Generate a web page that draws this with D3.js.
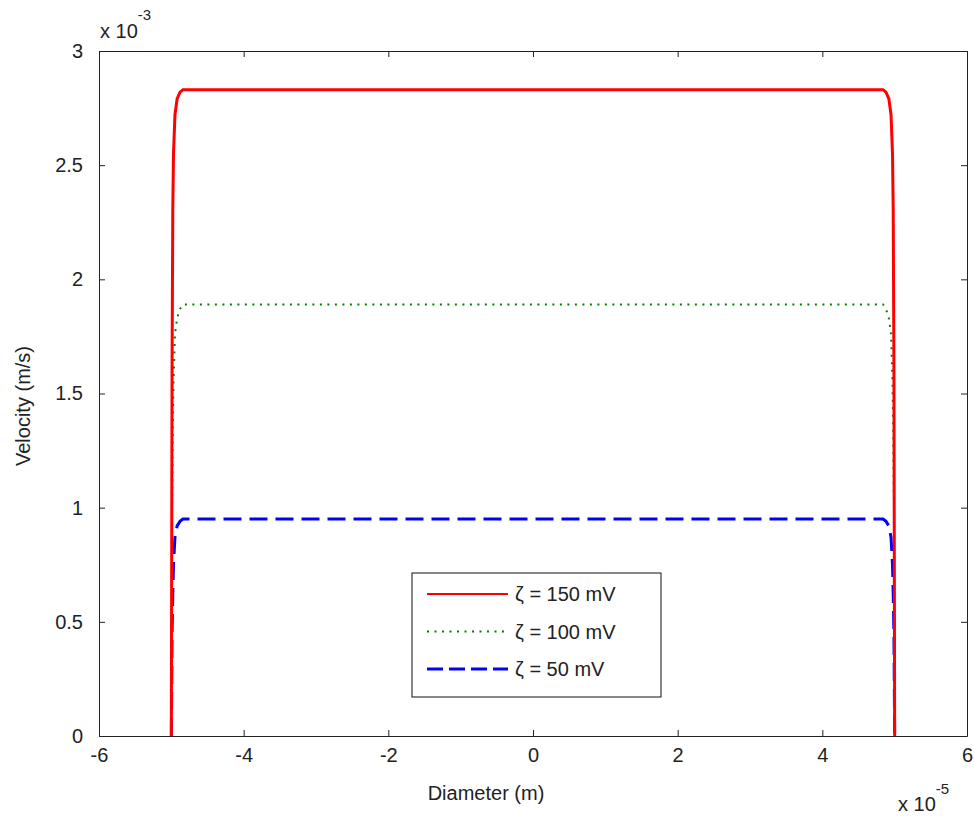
<!DOCTYPE html>
<html>
<head>
<meta charset="utf-8">
<script src="https://cdn.jsdelivr.net/npm/d3@7"></script>
<style>
  body { margin: 0; background: #fff; }
  text { font-family: "Liberation Sans", Arial, sans-serif; fill: #222; }
</style>
</head>
<body>
<div id="chart"></div>
<script>
// diameter positions (x 1e-5 m)
var xs = [-5, -4.99, -4.98, -4.97, -4.95, -4.92, -4.88, -4.84, -4.8, 0,
          4.8, 4.84, 4.88, 4.92, 4.95, 4.97, 4.98, 4.99, 5];
// velocity (x 1e-3 m/s)
var v150 = [0, 1.6, 2.3, 2.55, 2.72, 2.79, 2.82, 2.83, 2.83, 2.83,
            2.83, 2.83, 2.82, 2.79, 2.72, 2.55, 2.3, 1.6, 0];
var v100 = [0, 1.0, 1.35, 1.55, 1.76, 1.83, 1.87, 1.89, 1.89, 1.89,
            1.89, 1.89, 1.87, 1.83, 1.76, 1.55, 1.35, 1.0, 0];
var v50  = [0, 0.45, 0.62, 0.75, 0.87, 0.92, 0.94, 0.95, 0.95, 0.95,
            0.95, 0.95, 0.94, 0.92, 0.87, 0.75, 0.62, 0.45, 0];

var series = [
  {name: "ζ = 150 mV", vals: v150, color: "#ff0000", width: 3, dash: null, ldash: null, lw: 2},
  {name: "ζ = 100 mV", vals: v100, color: "#008000", width: 2, dash: "2,5.5", ldash: "2,5.5", lw: 2},
  {name: "ζ = 50 mV",  vals: v50,  color: "#0000ff", width: 3, dash: "18,8", ldash: "16,6", lw: 3}
];

var xTicks = [-6, -4, -2, 0, 2, 4, 6];
var yTicks = [0, 0.5, 1, 1.5, 2, 2.5, 3];

var W = 974, H = 818;
var L = 99, R = 967, T = 51, B = 736;

var svg = d3.select("#chart").append("svg")
    .attr("width", W).attr("height", H);

var x = d3.scaleLinear().domain([-6, 6]).range([L, R]);
var y = d3.scaleLinear().domain([0, 3]).range([B, T]);

// plain hyphen for negatives, like the original
var fmt = function(d) { return String(d); };

svg.append("clipPath").attr("id", "clip")
  .append("rect").attr("x", L).attr("y", T).attr("width", R - L).attr("height", B - T);

// axes (ticks inside, box style)
var tk = 6;
svg.append("g").attr("transform", "translate(0," + B + ")")
    .call(d3.axisBottom(x).tickValues(xTicks).tickSizeInner(-tk).tickSizeOuter(0).tickPadding(12)
      .tickFormat(fmt));
svg.append("g").attr("transform", "translate(0," + T + ")")
    .call(d3.axisTop(x).tickValues(xTicks).tickSizeInner(-tk).tickSizeOuter(0).tickFormat(""));
svg.append("g").attr("transform", "translate(" + L + ",0)")
    .call(d3.axisLeft(y).tickValues(yTicks).tickSizeInner(-tk).tickSizeOuter(0).tickPadding(16)
      .tickFormat(fmt));
svg.append("g").attr("transform", "translate(" + R + ",0)")
    .call(d3.axisRight(y).tickValues(yTicks).tickSizeInner(-tk).tickSizeOuter(0).tickFormat(""));

svg.selectAll(".domain").attr("stroke", "#222");
svg.selectAll(".tick line").attr("stroke", "#222");
svg.selectAll(".tick text").style("font-size", "20px").attr("fill", "#222");

var line = d3.line()
    .x(function(d, i) { return x(xs[i]); })
    .y(function(d) { return y(d); });

var plot = svg.append("g").attr("clip-path", "url(#clip)");
plot.selectAll("path.curve")
  .data(series.slice().reverse())
  .enter().append("path")
    .attr("class", "curve")
    .attr("d", function(s) { return line(s.vals); })
    .attr("fill", "none")
    .attr("stroke", function(s) { return s.color; })
    .attr("stroke-width", function(s) { return s.width; })
    .attr("stroke-dasharray", function(s) { return s.dash; });

// exponent labels
var e1 = svg.append("text").attr("x", 100).attr("y", 38).style("font-size", "20px");
e1.append("tspan").text("x 10");
e1.append("tspan").attr("dy", -18).style("font-size", "15px").text("-3");

var e2 = svg.append("text").attr("x", 898).attr("y", 811).style("font-size", "20px");
e2.append("tspan").text("x 10");
e2.append("tspan").attr("dy", -17).style("font-size", "15px").text("-5");

// axis labels
svg.append("text").attr("x", 486).attr("y", 800)
    .attr("text-anchor", "middle").style("font-size", "20px").text("Diameter (m)");
svg.append("text").attr("transform", "translate(30,406) rotate(-90)")
    .attr("text-anchor", "middle").style("font-size", "20px").text("Velocity (m/s)");

// legend
var lg = svg.append("g").attr("transform", "translate(412,573)");
lg.append("rect").attr("width", 249).attr("height", 124)
    .attr("fill", "#fff").attr("stroke", "#111").attr("stroke-width", 1);
var rows = lg.selectAll("g.row").data(series).enter().append("g")
    .attr("transform", function(d, i) { return "translate(0," + (21 + i * 37.5) + ")"; });
rows.append("line").attr("x1", 15).attr("x2", 96)
    .attr("stroke", function(s) { return s.color; })
    .attr("stroke-width", function(s) { return s.lw; })
    .attr("stroke-dasharray", function(s) { return s.ldash; });
rows.append("text").attr("x", 103).attr("dy", "0.35em")
    .style("font-size", "20px").text(function(s) { return s.name; });
</script>
</body>
</html>
